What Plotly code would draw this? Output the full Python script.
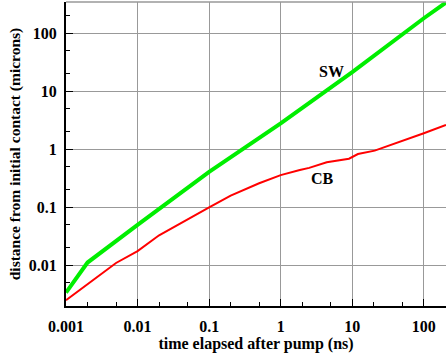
import math
import plotly.graph_objects as go

# Time elapsed after pump (ns)
sw_time = [0.001, 0.002, 0.01, 0.1, 1, 10, 100, 204]
# Shock-wave front distance (microns)
sw_dist = [0.0034, 0.0112, 0.05, 0.41, 2.8, 21.5, 182, 340]

cb_time = [0.001, 0.005, 0.01, 0.02, 0.1, 0.2, 0.5, 1, 1.85, 2.5, 4.4, 9, 12, 20.6, 100, 204]
cb_dist = [0.0025, 0.011, 0.0176, 0.033, 0.1, 0.16, 0.26, 0.36, 0.44, 0.48, 0.6, 0.69, 0.83, 0.95, 1.9, 2.63]

x_tickvals = [0.001, 0.01, 0.1, 1, 10, 100]
x_ticktext = ["0.001", "0.01", "0.1", "1", "10", "100"]
y_tickvals = [0.01, 0.1, 1, 10, 100]
y_ticktext = ["0.01", "0.1", "1", "10", "100"]

series_labels = ["SW", "CB"]
label_pos = [(5.1, 22.4), (3.83, 0.316)]

FONT = "Liberation Serif, Times New Roman, serif"
GRID = "#999999"

fig = go.Figure()
fig.add_trace(go.Scatter(x=sw_time, y=sw_dist, mode="lines",
                         line=dict(color="#00ee00", width=4), showlegend=False))
fig.add_trace(go.Scatter(x=cb_time, y=cb_dist, mode="lines",
                         line=dict(color="#ff0000", width=2), showlegend=False))

# annotations on log axes are positioned in log10 units
for text, (tx, ty) in zip(series_labels, label_pos):
    fig.add_annotation(x=math.log10(tx), y=math.log10(ty), xref="x", yref="y",
                       text=text, showarrow=False,
                       font=dict(family=FONT, size=16, color="black", weight="bold"))

# thin grey frame line along the top of the plot area
fig.add_shape(type="line", xref="paper", yref="paper", x0=0, x1=1, y0=1, y1=1,
              line=dict(color=GRID, width=1.5))

axis_common = dict(
    type="log", showgrid=True, gridcolor=GRID, gridwidth=1,
    showline=True, linecolor="black", linewidth=2,
    ticks="inside", ticklen=7, tickcolor="black", tickwidth=1,
    tickfont=dict(family=FONT, size=16, color="black", weight="bold"),
    zeroline=False,
    minor=dict(ticks="inside", ticklen=4, tickcolor="black", tickwidth=1, showgrid=False),
)

fig.update_layout(
    width=446, height=358,
    margin=dict(l=66, r=0, t=2, b=52),
    paper_bgcolor="white", plot_bgcolor="white",
    xaxis=dict(axis_common, range=[-3, 2.31], tickvals=x_tickvals, ticktext=x_ticktext,
               ticklabelstandoff=5,
               title=dict(text="time elapsed after pump (ns)", standoff=2,
                          font=dict(family=FONT, size=16, color="black", weight="bold"))),
    yaxis=dict(axis_common, range=[-2.70, 2.54], tickvals=y_tickvals, ticktext=y_ticktext,
               ticklabelstandoff=4,
               title=dict(text="distance from initial contact (microns)", standoff=4,
                          font=dict(family=FONT, size=15.5, color="black", weight="bold"))),
)

fig.write_html("out.html")
